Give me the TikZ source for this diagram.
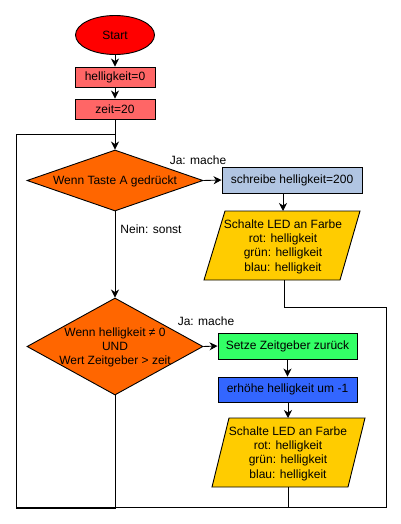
\documentclass[tikz,border=0pt]{standalone}
\usepackage{fontspec}
\setmainfont{Liberation Sans}
\usetikzlibrary{shapes.geometric,arrows.meta}
\definecolor{cStart}{HTML}{FF0000}
\definecolor{cInit}{HTML}{FF6666}
\definecolor{cDia}{HTML}{FF6600}
\definecolor{cSb}{HTML}{B1C5E2}
\definecolor{cYel}{HTML}{FFCC00}
\definecolor{cGreen}{HTML}{33FF66}
\definecolor{cBlue}{HTML}{3366FF}
\tikzset{
  every node/.style={font=\fontsize{12}{14.3}\selectfont, text=black},
  box/.style={draw=black, line width=0.9pt, rectangle, inner sep=0pt, align=center},
  dia/.style={draw=black, line width=0.9pt, diamond, inner sep=0pt, fill=cDia},
  para/.style={draw=black, line width=0.9pt, fill=cYel},
  conn/.style={draw=black, line width=0.9pt},
  arr/.style={conn, -{Stealth[length=8pt,width=8pt,inset=2.5pt]}},
  lbl/.style={inner sep=0pt}
}
\begin{document}
\begin{tikzpicture}[x=1pt,y=-1pt]
\useasboundingbox (0,0) rectangle (401,524);
% nodes
\node[draw=black, line width=0.9pt, ellipse, fill=cStart, minimum width=79pt, minimum height=39pt, inner sep=0pt] (start) at (115,35) {Start};
\node[box, fill=cInit, minimum width=80pt, minimum height=20pt] (h0) at (115,77) {helligkeit=0};
\node[box, fill=cInit, minimum width=80pt, minimum height=20pt] (z20) at (115,109) {zeit=20};
\node[dia, minimum width=176pt, minimum height=61pt] (d1) at (115,180.5) {};
\node[lbl] (d1t) at (115,181) {Wenn Taste A gedrückt};
\node[box, fill=cSb, minimum width=140pt, minimum height=26pt] (sb) at (292,180) {schreibe helligkeit=200};
% parallelogram 1
\draw[para] (204,280) -- (225,211) -- (360,211) -- (340,280) -- cycle;
\coordinate (p1top) at (283,211);
\coordinate (p1bot) at (284,280);
\node[lbl, align=center] (p1) at (283,246.5) {Schalte LED an Farbe\\rot: helligkeit\\grün: helligkeit\\blau: helligkeit};
\node[dia, minimum width=176pt, minimum height=97pt] (d2) at (115,346.5) {};
\node[lbl, align=center] (d2t) at (115,347.5) {Wenn helligkeit ≠ 0\\UND\\Wert Zeitgeber > zeit};
\node[box, fill=cGreen, minimum width=139pt, minimum height=26pt] (gr) at (287.5,346) {Setze Zeitgeber zurück};
\node[box, fill=cBlue, minimum width=139pt, minimum height=25pt] (bl) at (287.5,389.5) {erhöhe helligkeit um -1};
% parallelogram 2
\draw[para] (212,487) -- (229,418) -- (365,418) -- (348,487) -- cycle;
\coordinate (p2top) at (288,418);
\coordinate (p2bot) at (288,487);
\node[lbl, align=center] (p2) at (288,453.5) {Schalte LED an Farbe\\rot: helligkeit\\grün: helligkeit\\blau: helligkeit};
% labels
\node[lbl] (ja1) at (198,160) {Ja: mache};
\node[lbl] (nein) at (151,229) {Nein: sonst};
\node[lbl] (ja2) at (206,321) {Ja: mache};
% loop coordinates
\coordinate (c1) at (115,508.5);
\coordinate (c2) at (16,508.5);
\coordinate (c3) at (16,134);
\coordinate (c4) at (115,134);
\coordinate (r1) at (284,307);
\coordinate (r2) at (386,307);
\coordinate (r3) at (386,507);
\coordinate (r4) at (16,507);
\coordinate (q1) at (288,507);
% connectors
\draw[arr] (start) -- (h0);
\draw[arr] (h0) -- (z20);
\draw[arr] (z20) -- (d1.north);
\draw[arr] (d1.east) -- (sb.west);
\draw[arr] (sb.south -| p1top) -- (p1top);
\draw[arr] (d1.south) -- (d2.north);
\draw[arr] (d2.east) -- (gr.west);
\draw[arr] (gr) -- (bl);
\draw[arr] (bl.south -| p2top) -- (p2top);
\draw[conn] (d2.south) -- (c1) -- (c2) -- (c3) -- (c4);
\draw[conn] (p1bot) -- (r1) -- (r2) -- (r3) -- (r4);
\draw[conn] (p2bot) -- (q1);
\end{tikzpicture}
\end{document}
